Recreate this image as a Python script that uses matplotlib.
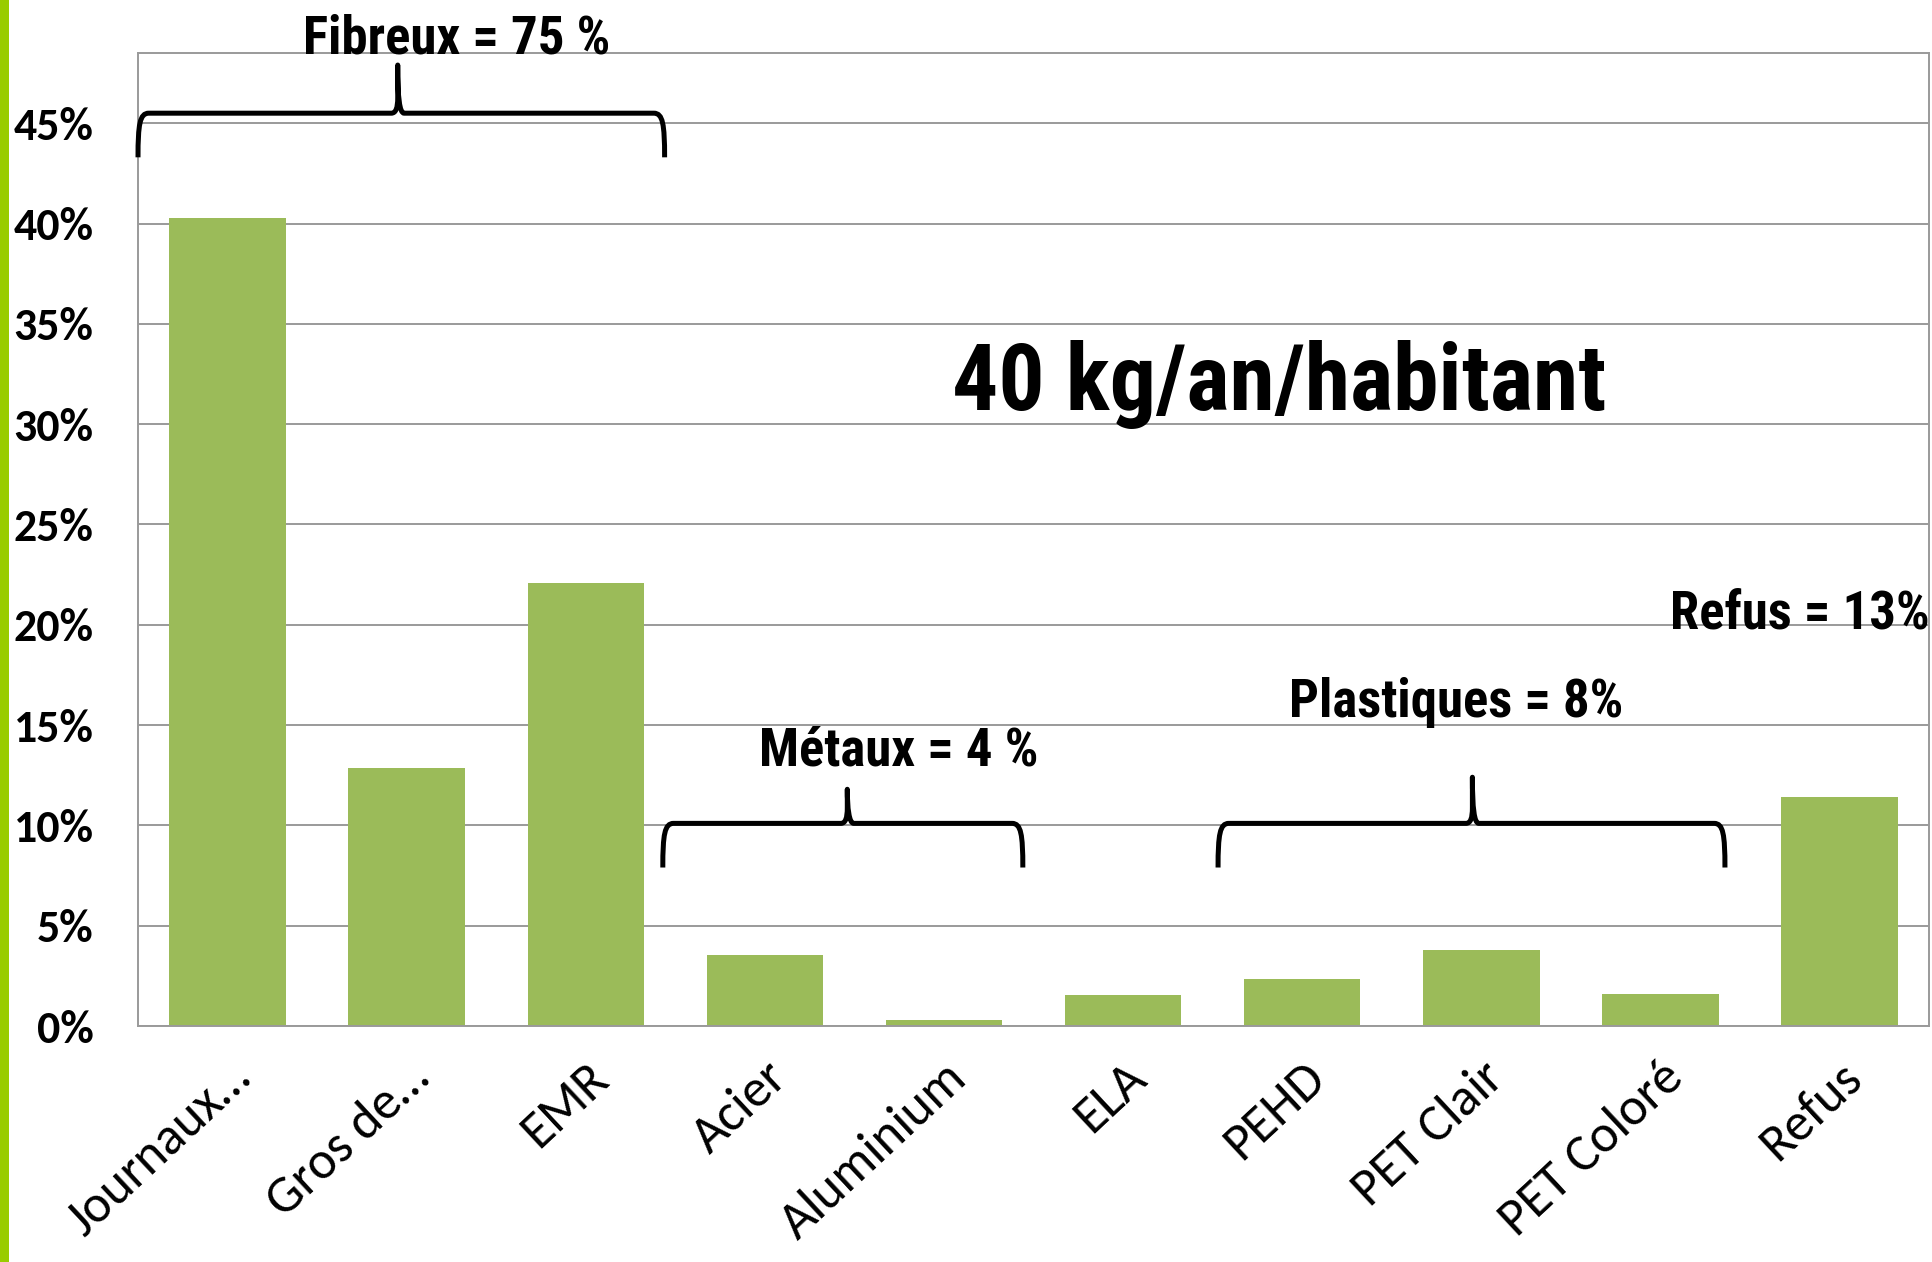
import matplotlib
matplotlib.use("Agg")
import matplotlib.pyplot as plt
from matplotlib.path import Path
from matplotlib.patches import PathPatch, Rectangle
from matplotlib.ticker import FuncFormatter, MultipleLocator
import matplotlib.transforms as mtransforms

categories = ["Journaux…", "Gros de…", "EMR", "Acier", "Aluminium",
              "ELA", "PEHD", "PET Clair", "PET Coloré", "Refus"]
values = [40.3, 12.85, 22.1, 3.55, 0.3, 1.55, 2.35, 3.8, 1.6, 11.4]

group_labels = ["Fibreux = 75 %", "Métaux = 4 %", "Plastiques = 8%", "Refus = 13%"]
headline = "40 kg/an/habitant"

BAR = "#9BBB59"
GRID = "#9a9a9a"
NARROW = ["Roboto Condensed", "DejaVu Sans"]
CALIBRI = ["Carlito", "DejaVu Sans"]

fig = plt.figure(figsize=(19.33, 12.62), dpi=100)
ax = fig.add_axes([0.0714, 0.187, 0.9266, 0.771])

x = list(range(len(categories)))
ax.bar(x, values, width=0.65, color=BAR, zorder=2)

ax.set_xlim(-0.5, len(categories) - 0.5)
ax.set_ylim(0, 48.5)
ax.yaxis.set_major_locator(MultipleLocator(5))
ax.yaxis.set_major_formatter(FuncFormatter(lambda v, p: f"{v:.0f}%" if v <= 45 else ""))
ax.grid(axis="y", color=GRID, linewidth=1.4, zorder=0)
for s in ax.spines.values():
    s.set_color(GRID)
    s.set_linewidth(1.4)

ax.tick_params(axis="y", length=0, pad=32)
for t in ax.get_yticklabels():
    t.set_fontfamily(CALIBRI)
    t.set_fontweight("bold")
    t.set_fontsize(33)

ax.set_xticks(x)
ax.set_xticklabels(categories, rotation=43, ha="right", va="top",
                   rotation_mode="anchor", fontsize=38, family=CALIBRI)
ax.tick_params(axis="x", length=0, pad=20)
offset = mtransforms.ScaledTranslation(0, 0, fig.dpi_scale_trans)
for t in ax.get_xticklabels():
    t.set_transform(t.get_transform() + offset)


def brace(x0, x1, xm, y_leg, y_bar, y_tip):
    dx = 0.06
    dy = (y_bar - y_leg) * 0.25
    verts = [
        (x0, y_leg), (x0, y_bar - dy), (x0 + 0.01, y_bar), (x0 + dx, y_bar),
        (xm - dx * 0.6, y_bar),
        (xm - 0.01, y_bar), (xm, y_bar + dy * 0.5), (xm, y_bar + dy * 1.4),
        (xm, y_tip),
        (xm, y_bar + dy * 1.4), (xm + 0.01, y_bar), (xm + dx * 0.6, y_bar),
        (x1 - dx, y_bar),
        (x1 - 0.01, y_bar), (x1, y_bar - dy), (x1, y_leg),
    ]
    codes = [Path.MOVETO, Path.CURVE4, Path.CURVE4, Path.CURVE4,
             Path.LINETO,
             Path.CURVE4, Path.CURVE4, Path.CURVE4,
             Path.LINETO,
             Path.CURVE4, Path.CURVE4, Path.CURVE4,
             Path.LINETO,
             Path.CURVE4, Path.CURVE4, Path.CURVE4]
    ax.add_patch(PathPatch(Path(verts, codes), facecolor="none", edgecolor="black",
                           linewidth=3.6, capstyle="butt", joinstyle="round",
                           clip_on=False, zorder=4))


brace(-0.5, 2.44, 0.95, 43.3, 45.5, 47.9)
brace(2.43, 4.44, 3.46, 7.9, 10.1, 11.8)
brace(5.53, 8.36, 6.95, 7.9, 10.1, 12.4)

tkw = dict(ha="center", va="baseline", fontsize=38, fontweight="bold",
           family=NARROW, clip_on=False, zorder=5)
ax.text(1.28, 48.5, group_labels[0], **tkw)
ax.text(3.75, 13.0, group_labels[1], **tkw)
ax.text(6.86, 15.4, group_labels[2], **tkw)
ax.text(8.78, 19.8, group_labels[3], **tkw)
ax.text(5.87, 30.7, headline, ha="center", va="baseline", fontsize=66,
        fontweight="bold", family=NARROW, zorder=5)

fig.patches.append(Rectangle((0, 0), 9 / 1933, 1, transform=fig.transFigure,
                             facecolor="#99CC00", edgecolor="none"))

fig.savefig("out.png", dpi=100, facecolor="white")
